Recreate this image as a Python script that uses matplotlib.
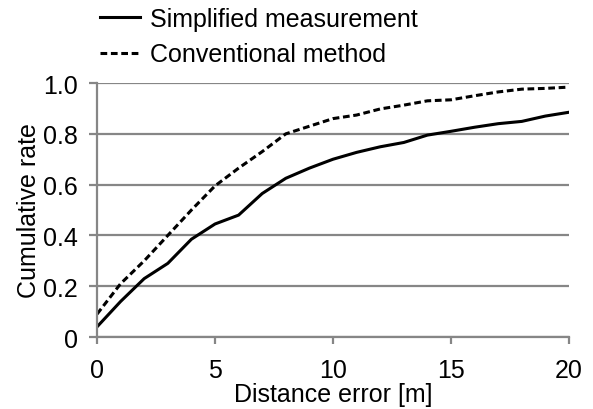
import matplotlib.pyplot as plt
import numpy as np

plt.rcParams['font.family'] = ['Liberation Sans', 'DejaVu Sans']

distance = np.arange(0, 21)
simplified = [0.04, 0.14, 0.23, 0.29, 0.385, 0.445, 0.48, 0.565, 0.625, 0.665, 0.70,
              0.727, 0.749, 0.766, 0.795, 0.81, 0.826, 0.84, 0.849, 0.87, 0.885]
conventional = [0.09, 0.21, 0.30, 0.40, 0.50, 0.595, 0.665, 0.73, 0.80, 0.83, 0.86,
                0.874, 0.898, 0.913, 0.93, 0.934, 0.95, 0.965, 0.976, 0.979, 0.984]

fig = plt.figure(figsize=(5.93, 4.10), dpi=100)
ax = fig.add_axes([0.1636, 0.1756, 0.7959, 0.6194])

grey = '#868686'
fs = 18
ax.plot(distance, simplified, '-', color='black', lw=2.2, label='Simplified measurement')
ax.plot(distance, conventional, '--', color='black', lw=2.2, dashes=(2.2, 1.2),
        label='Conventional method')

ax.set_xlim(0, 20)
ax.set_ylim(0, 1.0)
ax.set_xticks([0, 5, 10, 15, 20])
ax.set_yticks([0, 0.2, 0.4, 0.6, 0.8, 1.0])
ax.set_yticklabels(['0', '0.2', '0.4', '0.6', '0.8', '1.0'])
ax.yaxis.grid(True, color=grey, lw=1.6)
ax.set_axisbelow(True)
for s in ['top', 'right']:
    ax.spines[s].set_visible(False)
for s in ['left', 'bottom']:
    ax.spines[s].set_color(grey)
    ax.spines[s].set_linewidth(1.6)
ax.tick_params(axis='x', colors=grey, width=1.6, length=5, pad=10, labelcolor='black', labelsize=fs)
ax.tick_params(axis='y', colors=grey, width=1.6, length=6, pad=8, labelcolor='black', labelsize=fs)
ax.set_xlabel('Distance error [m]', fontsize=fs, labelpad=0)
ax.set_ylabel('Cumulative rate', fontsize=fs, labelpad=1)

ax.legend(loc='upper left', frameon=False, fontsize=fs, handlelength=1.6,
          handletextpad=0.4, labelspacing=0.45, borderpad=0.0, borderaxespad=0.0)
leg = ax.get_legend()
leg.set_bbox_to_anchor((100 / 593, 1 - 8 / 410), transform=fig.transFigure)

plt.savefig('out.png', dpi=100)
